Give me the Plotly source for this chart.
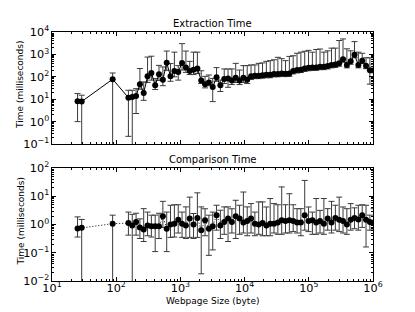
import plotly.graph_objects as go

# Webpage size bins (bytes)
sizes = [25, 29, 88,
         155, 178, 204, 234, 268, 308, 353, 405, 464, 533, 612, 702, 806, 925,
         1061, 1218, 1397, 1602, 1839, 2110, 2421, 2778, 3187, 3657, 4195, 4814,
         5524, 6337, 7270, 8342, 9572, 10981, 12597, 14454, 16587, 19030, 21833,
         25050, 28740, 32980, 37840, 43410, 49810, 57150, 65570, 75230, 86350,
         99060, 113660, 130400, 149620, 171670, 196970, 226000, 259300, 297500,
         341300, 391600, 449300, 515500, 591600, 678700, 778700, 893500, 1025000]

# Extraction time (ms): centre, upper end, lower end (0 = runs below the axis)
ext_mean = [8.1, 7.9, 78, 11.7, 12.6, 13.8, 47, 19, 105, 148, 42, 129, 74, 427, 105,
            182, 162, 417, 257, 182, 209, 234, 69, 47, 56, 35, 95, 42, 79, 85, 69, 91,
            69, 91, 74, 105, 112, 112, 117, 123, 123, 135, 135, 141, 138, 141, 182,
            200, 209, 234, 251, 263, 263, 282, 282, 302, 339, 355, 398, 603, 339, 490,
            955, 339, 525, 309, 195, 195]
ext_upper = [17.8, 15.1, 148, 25, 25, 29.5, 234, 59, 760, 830, 83, 324, 275, 1410, 389,
             1260, 316, 3020, 1410, 490, 1260, 1260, 186, 105, 120, 85, 257, 72, 224,
             224, 224, 398, 200, 316, 316, 339, 339, 398, 417, 490, 525, 575, 741, 646,
             525, 813, 871, 1122, 1259, 1380, 1514, 1259, 1660, 1738, 1259, 1445, 1905,
             1905, 4169, 4898, 1778, 1445, 3715, 1259, 1122, 708, 708, 355]
ext_lower = [1.0, 0, 0, 0.22, 0, 2.3, 28, 8.9, 56, 71, 27, 69, 40, 195, 63, 100, 71, 200,
             158, 126, 126, 141, 50, 32, 40, 7.8, 63, 22, 50, 34, 45, 56, 45, 56, 50, 76,
             83, 83, 87, 91, 91, 100, 100, 105, 102, 105, 135, 148, 155, 174, 186, 195,
             195, 209, 209, 224, 251, 263, 295, 447, 251, 363, 708, 251, 389, 230, 47, 150]

# Comparison time (ms)
cmp_mean = [0.72, 0.76, 1.07, 1.12, 0.93, 1.23, 0.78, 0.66, 0.93, 0.87, 0.87, 0.87, 1.95,
            0.71, 1.0, 1.07, 1.48, 1.07, 0.93, 1.62, 1.0, 1.7, 0.63, 1.41, 0.71, 0.87,
            2.14, 0.93, 1.23, 1.62, 1.23, 1.95, 1.62, 1.17, 1.32, 1.62, 1.07, 1.0, 1.12,
            0.93, 1.07, 1.07, 1.17, 1.41, 1.32, 1.41, 1.32, 1.17, 1.17, 2.14, 1.32, 1.41,
            1.17, 1.32, 1.07, 1.62, 1.17, 1.7, 1.48, 1.32, 1.0, 1.48, 1.7, 1.51, 2.14,
            1.48, 1.23, 1.17]
cmp_upper = [1.86, 1.51, 2.14, 2.75, 2.29, 2.51, 1.58, 3.63, 2.75, 2.14, 2.14, 2.5, 6.6,
             2.75, 4.8, 5.0, 5.0, 2.75, 4.2, 9.3, 2.45, 13.2, 4.2, 3.6, 2.14, 2.75, 4.8,
             3.2, 4.2, 4.2, 3.6, 7.2, 4.8, 14.1, 4.2, 5.5, 2.75, 6.3, 6.3, 4.17, 8.3, 5.5,
             5.0, 21.4, 5.0, 12.3, 5.0, 3.63, 3.63, 36.3, 4.17, 2.75, 8.3, 3.16, 8.3,
             3.63, 6.6, 4.8, 9.3, 4.17, 3.63, 5.5, 3.89, 4.8, 5.0, 4.8, 2.14, 3.63]
cmp_lower = [0.36, 0, 0, 0.42, 0, 0.42, 0.32, 0.25, 0.40, 0.36, 0.11, 0.32, 0.79, 0.11,
             0.35, 0.36, 0.5, 0.35, 0.32, 0.35, 0.32, 0.35, 0.018, 0.4, 0.081, 0.126,
             0.63, 0.32, 0.45, 0.25, 0.5, 0.32, 0.45, 0.5, 0.4, 0.5, 0.4, 0.45, 0.4, 0.4,
             0.4, 0.5, 0.45, 0.45, 0.5, 0.5, 0.56, 0.5, 0.4, 0.63, 0.56, 0.45, 0.45, 0.5,
             0.45, 0.63, 0.5, 0.63, 0.56, 0.5, 0.45, 0.63, 0.71, 0.63, 0.79, 0.16, 0.63,
             0.63]

titles = ["Extraction Time", "Comparison Time"]
y_title = "Time (milliseconds)"
x_title = "Webpage Size (byte)"
# tick labels shown as powers of ten, as in the reference
label_alias = {"0.01": "10<sup>-2</sup>", "0.1": "10<sup>-1</sup>",
               "1": "10<sup>0</sup>", "10": "10<sup>1</sup>"}

FONT = "DejaVu Sans"
W, H = 415, 312
L, R, T, B = 52, 42, 32, 31
ph = H - T - B
top_dom = [(H - B - 144) / ph, 1.0]
bot_dom = [0.0, (H - B - 168) / ph]
BAR = "#3a3a3a"


def err(mean, upper, lower):
    return dict(type="data", symmetric=False,
                array=[u - m for u, m in zip(upper, mean)],
                arrayminus=[m - l for m, l in zip(mean, lower)],
                color=BAR, thickness=1, width=3)


fig = go.Figure()
fig.add_trace(go.Scatter(
    x=sizes, y=ext_mean, mode="lines+markers", xaxis="x", yaxis="y",
    line=dict(color="black", width=1),
    marker=dict(color="black", size=6, line=dict(width=0)),
    error_y=err(ext_mean, ext_upper, ext_lower), showlegend=False))
fig.add_trace(go.Scatter(
    x=sizes, y=cmp_mean, mode="lines+markers", xaxis="x2", yaxis="y2",
    line=dict(color="black", width=1, dash="1px,2px"),
    marker=dict(color="black", size=6, line=dict(width=0)),
    error_y=err(cmp_mean, cmp_upper, cmp_lower), showlegend=False))

axis_common = dict(
    type="log", showline=True, linecolor="black", linewidth=1, mirror="allticks",
    ticks="inside", ticklen=4, tickwidth=1, tickcolor="black", dtick=1,
    exponentformat="power", showgrid=False, zeroline=False, labelalias=label_alias,
    tickfont=dict(family=FONT, size=9, color="black"), automargin=False,
    minor=dict(ticks="inside", ticklen=2, tickwidth=1, tickcolor="black", showgrid=False),
)

fig.update_layout(
    width=W, height=H, margin=dict(l=L, r=R, t=T, b=B),
    paper_bgcolor="white", plot_bgcolor="white",
    font=dict(family=FONT, size=9, color="black"),
    xaxis=dict(axis_common, range=[1, 6], domain=[0, 1], anchor="y",
               showticklabels=False, matches="x2"),
    yaxis=dict(axis_common, range=[-1, 4], domain=top_dom, anchor="x"),
    xaxis2=dict(axis_common, range=[1, 6], domain=[0, 1], anchor="y2",
                ticklabelstandoff=-3),
    yaxis2=dict(axis_common, range=[-2, 2], domain=bot_dom, anchor="x2"),
)

ann = []
for t, dom in zip(titles, [top_dom, bot_dom]):
    ann.append(dict(text=t, xref="paper", yref="paper", x=0.5, y=dom[1],
                    xanchor="center", yanchor="bottom", yshift=1, showarrow=False,
                    font=dict(family=FONT, size=10, color="black")))
    ann.append(dict(text=y_title, xref="paper", yref="paper", x=(20 - L) / (W - L - R),
                    y=(dom[0] + dom[1]) / 2, yshift=3, xanchor="center", yanchor="middle",
                    textangle=-90, showarrow=False,
                    font=dict(family=FONT, size=9, color="black")))
ann.append(dict(text=x_title, xref="paper", yref="paper", x=0.5,
                y=(H - B - 301) / ph, xanchor="center", yanchor="middle",
                showarrow=False, font=dict(family=FONT, size=9, color="black")))
fig.update_layout(annotations=ann)

fig.write_html("out.html", config={"displayModeBar": False},
               post_script="document.body.style.margin='0';document.body.style.padding='0';")
